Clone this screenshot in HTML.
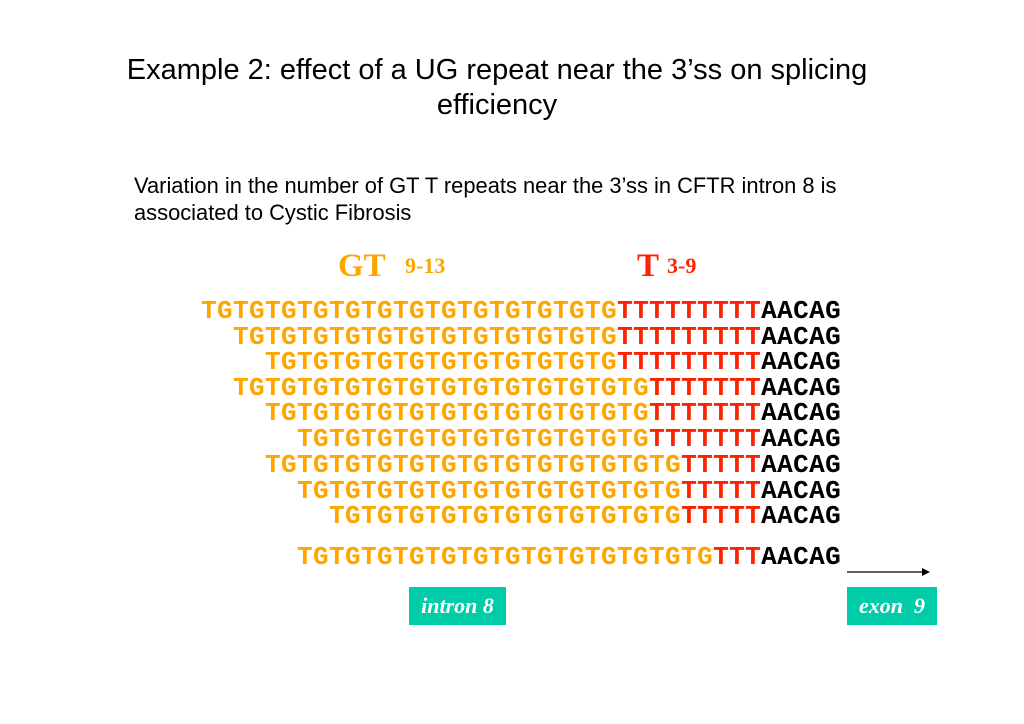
<!DOCTYPE html>
<html><head><style>
body{margin:0;width:1024px;height:724px;background:#fff;position:relative;overflow:hidden;font-family:"Liberation Sans",sans-serif}
.a{position:absolute;white-space:nowrap}
.t{font-size:29px;color:#000;width:1024px;left:-15px;text-align:center}
.p{font-size:21.9px;left:134px}
.s{font-family:"Liberation Mono",monospace;font-weight:bold;font-size:26px;letter-spacing:0.4px;color:#FFA500;line-height:26px}
.r{color:#FF2200}.k{color:#000}
.h{font-family:"Liberation Serif",serif;font-weight:bold;color:#FFA500}
.box{position:absolute;background:#00CCA8;color:#fff;font-family:"Liberation Serif",serif;font-style:italic;font-weight:bold;font-size:22px;text-align:center;line-height:38px;height:38px}
</style></head><body>
<div class="a t" style="top:54px">Example 2: effect of a UG repeat near the 3’ss on splicing</div>
<div class="a t" style="top:89px">efficiency</div>
<div class="a p" style="top:173px">Variation in the number of GT T repeats near the 3’ss in CFTR intron 8 is</div>
<div class="a p" style="top:200px">associated to Cystic Fibrosis</div>
<div class="a h" style="left:338px;top:248px;font-size:33px">GT</div>
<div class="a h" style="left:405px;top:253px;font-size:22px">9-13</div>
<div class="a h r" style="left:637px;top:248px;font-size:33px;color:#FF2200">T</div>
<div class="a h r" style="left:667px;top:253px;font-size:22px;color:#FF2200">3-9</div>
<div class="a s" style="left:201px;top:298px">TGTGTGTGTGTGTGTGTGTGTGTGTG<span class="r">TTTTTTTTT</span><span class="k">AACAG</span></div>
<div class="a s" style="left:233px;top:324px">TGTGTGTGTGTGTGTGTGTGTGTG<span class="r">TTTTTTTTT</span><span class="k">AACAG</span></div>
<div class="a s" style="left:265px;top:349px">TGTGTGTGTGTGTGTGTGTGTG<span class="r">TTTTTTTTT</span><span class="k">AACAG</span></div>
<div class="a s" style="left:233px;top:375px">TGTGTGTGTGTGTGTGTGTGTGTGTG<span class="r">TTTTTTT</span><span class="k">AACAG</span></div>
<div class="a s" style="left:265px;top:400px">TGTGTGTGTGTGTGTGTGTGTGTG<span class="r">TTTTTTT</span><span class="k">AACAG</span></div>
<div class="a s" style="left:297px;top:426px">TGTGTGTGTGTGTGTGTGTGTG<span class="r">TTTTTTT</span><span class="k">AACAG</span></div>
<div class="a s" style="left:265px;top:452px">TGTGTGTGTGTGTGTGTGTGTGTGTG<span class="r">TTTTT</span><span class="k">AACAG</span></div>
<div class="a s" style="left:297px;top:478px">TGTGTGTGTGTGTGTGTGTGTGTG<span class="r">TTTTT</span><span class="k">AACAG</span></div>
<div class="a s" style="left:329px;top:503px">TGTGTGTGTGTGTGTGTGTGTG<span class="r">TTTTT</span><span class="k">AACAG</span></div>
<div class="a s" style="left:297px;top:544px">TGTGTGTGTGTGTGTGTGTGTGTGTG<span class="r">TTT</span><span class="k">AACAG</span></div>
<svg class="a" style="left:840px;top:565px" width="100" height="14"><line x1="7" y1="7" x2="88" y2="7" stroke="#000" stroke-width="1.3"/><path d="M82,3 L90,7 L82,11 Z" fill="#000"/></svg>
<div class="box" style="left:409px;top:587px;width:97px">intron 8</div>
<div class="box" style="left:847px;top:587px;width:90px">exon&nbsp; 9</div>
</body></html>
